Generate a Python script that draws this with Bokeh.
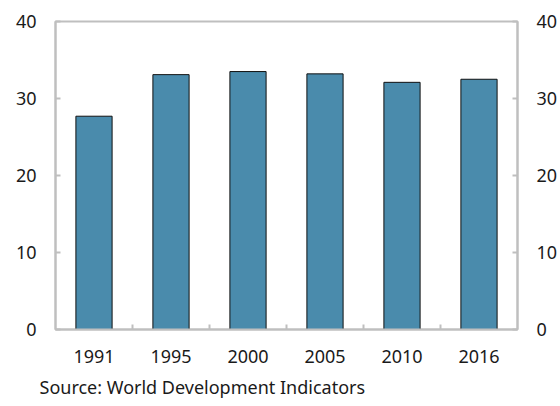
from bokeh.plotting import figure
from bokeh.models import Range1d, LinearAxis, FixedTicker, Title, ColumnDataSource
from bokeh.embed import file_html
from bokeh.resources import INLINE

years = ["1991", "1995", "2000", "2005", "2010", "2016"]
values = [27.7, 33.1, 33.5, 33.2, 32.1, 32.5]
y_ticks = [0, 10, 20, 30, 40]
source_text = "Source: World Development Indicators"

FONT = "Noto Sans"
GRAY = "#bfbfbf"
TXT = "#1a1a1a"

xpos = [i + 0.5 for i in range(len(years))]
src = ColumnDataSource(dict(x=xpos, top=values, year=years))

p = figure(width=560, height=406, output_backend="svg", toolbar_location=None,
           x_range=Range1d(0, len(years)), y_range=Range1d(0, 40),
           min_border_left=55, min_border_right=43, min_border_top=21, min_border_bottom=77)
p.xgrid.visible = False
p.ygrid.visible = False
p.background_fill_color = "white"
p.border_fill_color = "white"
p.outline_line_color = GRAY
p.outline_line_width = 2

p.vbar(x="x", top="top", width=0.47, bottom=0, source=src,
       fill_color="#4a8bac", line_color="#111111", line_width=1)

# x axis
xa = p.xaxis[0]
xa.ticker = FixedTicker(ticks=xpos, minor_ticks=list(range(1, len(years))))
xa.major_label_overrides = {x: y for x, y in zip(xpos, years)}
xa.major_tick_in = 0
xa.major_tick_out = 0
xa.minor_tick_in = 5
xa.minor_tick_out = 0
xa.minor_tick_line_color = GRAY
xa.minor_tick_line_width = 2
xa.axis_line_color = GRAY
xa.axis_line_width = 2
xa.major_label_text_font = FONT
xa.major_label_text_font_size = "18px"
xa.major_label_text_color = TXT
xa.major_label_standoff = 20

def style_y(ax):
    ax.ticker = FixedTicker(ticks=y_ticks, minor_ticks=[])
    ax.major_tick_in = 5
    ax.major_tick_out = 0
    ax.major_tick_line_color = GRAY
    ax.major_tick_line_width = 2
    ax.axis_line_color = GRAY
    ax.axis_line_width = 2
    ax.major_label_text_font = FONT
    ax.major_label_text_font_size = "18px"
    ax.major_label_text_color = TXT
    ax.major_label_standoff = 19

style_y(p.yaxis[0])
ra = LinearAxis()
style_y(ra)
p.add_layout(ra, "right")

p.add_layout(Title(text=source_text, align="left", offset=-16, standoff=15,
                   text_font=FONT, text_font_size="18px", text_color=TXT,
                   text_font_style="normal"), "below")

open("out.html", "w").write(file_html(p, INLINE))
